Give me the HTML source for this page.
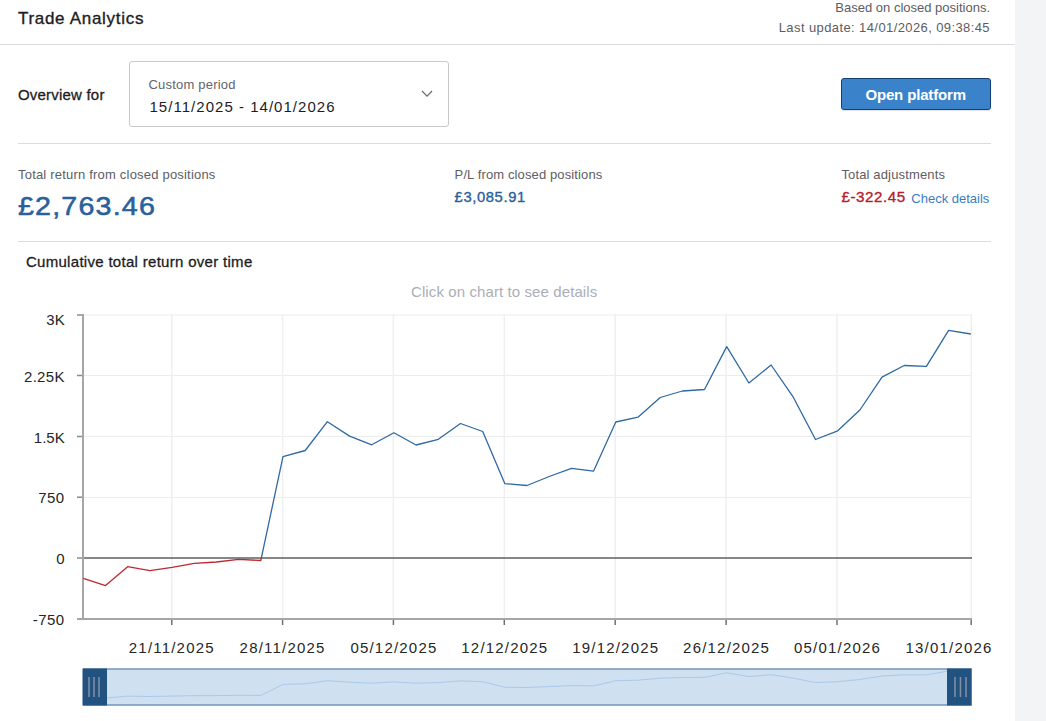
<!DOCTYPE html>
<html><head><meta charset="utf-8">
<style>
html,body{margin:0;padding:0;width:1046px;height:721px;overflow:hidden;background:#fff;}
body{position:relative;font-family:"Liberation Sans",sans-serif;color:#1d1d1f;}
.t{position:absolute;white-space:nowrap;line-height:1;}
.strip{position:absolute;left:1015px;top:0;width:31px;height:721px;background:#f3f4f6;}
.hline{position:absolute;height:1px;background:#dcdcdf;}
</style></head><body>
<div class="strip"></div>

<!-- header -->
<div class="t" style="left:18px;top:9.6px;font-size:17px;letter-spacing:0.7px;-webkit-text-stroke:0.35px #1d1d1f;color:#1d1d1f;">Trade Analytics</div>
<div class="t" style="right:56px;top:1.3px;font-size:13px;color:#5c5c63;">Based on closed positions.</div>
<div class="t" style="right:56px;top:21.3px;font-size:13px;letter-spacing:0.4px;color:#5c5c63;">Last update: 14/01/2026, 09:38:45</div>
<div class="hline" style="left:0;top:44px;width:1015px;"></div>

<!-- overview row -->
<div class="t" style="left:18px;top:87.3px;font-size:15px;letter-spacing:0.2px;-webkit-text-stroke:0.3px #1d1d1f;color:#1d1d1f;">Overview for</div>
<div style="position:absolute;left:129px;top:61px;width:318px;height:64px;border:1px solid #c9c9cc;border-radius:3px;"></div>
<div class="t" style="left:148.5px;top:78.4px;font-size:13px;letter-spacing:0.2px;color:#63636b;">Custom period</div>
<div class="t" style="left:149.5px;top:99px;font-size:15px;letter-spacing:1.03px;color:#1d1d1f;">15/11/2025 - 14/01/2026</div>
<svg style="position:absolute;left:0;top:0" width="1046" height="130">
  <polyline points="422,91 427,96.2 432,91" fill="none" stroke="#66666e" stroke-width="1.15"/>
</svg>
<div style="position:absolute;left:841px;top:78px;width:148px;height:30px;background:#3a83cb;border:1px solid #143f70;border-radius:3px;box-shadow:0 1px 1px rgba(0,0,0,0.12);"></div>
<div class="t" style="left:865.4px;top:87.3px;font-size:15px;font-weight:bold;letter-spacing:-0.15px;color:#fff;">Open platform</div>

<div class="hline" style="left:18px;top:143px;width:973px;"></div>

<!-- stats -->
<div class="t" style="left:18px;top:168.4px;font-size:13px;letter-spacing:0.2px;color:#5d5d63;">Total return from closed positions</div>
<div class="t" style="left:18.4px;top:193.4px;font-size:26.5px;letter-spacing:1.1px;transform:scaleX(1.08);transform-origin:0 0;-webkit-text-stroke:0.55px #29609a;color:#29609a;">£2,763.46</div>
<div class="t" style="left:454.6px;top:168.4px;font-size:13px;letter-spacing:0.12px;color:#5d5d63;">P/L from closed positions</div>
<div class="t" style="left:454.6px;top:189.9px;font-size:14.8px;letter-spacing:0.6px;-webkit-text-stroke:0.35px #29609a;color:#29609a;">£3,085.91</div>
<div class="t" style="left:841.4px;top:168.2px;font-size:13px;letter-spacing:0.15px;color:#5d5d63;">Total adjustments</div>
<div class="t" style="left:841.4px;top:189.2px;font-size:15.2px;letter-spacing:0.55px;-webkit-text-stroke:0.35px #b3202a;color:#b3202a;">£-322.45</div>
<div class="t" style="left:911.3px;top:191.6px;font-size:13px;color:#3a7cc4;">Check details</div>

<div class="hline" style="left:18px;top:241px;width:973px;"></div>

<div class="t" style="left:25.9px;top:254.4px;font-size:15px;letter-spacing:0.3px;-webkit-text-stroke:0.3px #1d1d1f;color:#1d1d1f;">Cumulative total return over time</div>
<div class="t" style="left:411px;top:283.8px;font-size:15px;letter-spacing:0.1px;color:#abaeb7;">Click on chart to see details</div>

<!-- chart -->
<svg style="position:absolute;left:0;top:0" width="1046" height="721">
  <defs>
    <clipPath id="above"><rect x="0" y="0" width="1046" height="558"/></clipPath>
    <clipPath id="below"><rect x="0" y="558" width="1046" height="200"/></clipPath>
  </defs>
  <g stroke="#ececef" stroke-width="1" fill="none">
    <line x1="83" y1="315" x2="971.5" y2="315"/>
    <line x1="83" y1="375.5" x2="971.5" y2="375.5"/>
    <line x1="83" y1="436.5" x2="971.5" y2="436.5"/>
    <line x1="83" y1="497.5" x2="971.5" y2="497.5"/>
  </g>
  <g stroke="#efeff2" stroke-width="1.5" fill="none">
    <line x1="171.8" y1="314" x2="171.8" y2="619"/>
    <line x1="282.6" y1="314" x2="282.6" y2="619"/>
    <line x1="393.4" y1="314" x2="393.4" y2="619"/>
    <line x1="504.3" y1="314" x2="504.3" y2="619"/>
    <line x1="615.2" y1="314" x2="615.2" y2="619"/>
    <line x1="726.1" y1="314" x2="726.1" y2="619"/>
    <line x1="837" y1="314" x2="837" y2="619"/>
    <line x1="971.3" y1="314" x2="971.3" y2="619"/>
  </g>
  <!-- y ticks -->
  <g stroke="#8a8a8a" stroke-width="1.5">
    <line x1="77" y1="315" x2="83" y2="315"/>
    <line x1="77" y1="375.5" x2="83" y2="375.5"/>
    <line x1="77" y1="436.5" x2="83" y2="436.5"/>
    <line x1="77" y1="497.2" x2="83" y2="497.2"/>
    <line x1="77" y1="558" x2="83" y2="558"/>
  </g>
  <!-- x ticks -->
  <g stroke="#707070" stroke-width="1.5">
    <line x1="171.8" y1="619" x2="171.8" y2="625"/>
    <line x1="282.6" y1="619" x2="282.6" y2="625"/>
    <line x1="393.4" y1="619" x2="393.4" y2="625"/>
    <line x1="504.3" y1="619" x2="504.3" y2="625"/>
    <line x1="615.2" y1="619" x2="615.2" y2="625"/>
    <line x1="726.1" y1="619" x2="726.1" y2="625"/>
    <line x1="837" y1="619" x2="837" y2="625"/>
    <line x1="971.2" y1="619" x2="971.2" y2="625"/>
  </g>
  <line x1="83" y1="558" x2="972" y2="558" stroke="#5f5f5f" stroke-width="1.6"/>
  <line x1="83" y1="314" x2="83" y2="620" stroke="#a6a6a6" stroke-width="2"/>
  <line x1="77" y1="619" x2="972" y2="619" stroke="#a6a6a6" stroke-width="2"/>

  <g fill="none" stroke-width="1.3" stroke-linejoin="round">
    <polyline clip-path="url(#above)" stroke="#2f69a3" points="83.3,578.3 105.5,585.6 127.7,566.7 149.9,570.7 172.1,567.4 194.2,563.4 216.4,562.0 238.6,559.4 260.8,560.5 283.0,456.6 305.2,450.5 327.4,421.7 349.6,436.1 371.7,444.8 393.9,432.8 416.1,445.0 438.3,439.3 460.5,423.5 482.7,431.5 504.9,483.7 527.0,485.5 549.2,476.5 571.4,468.3 593.6,471.1 615.8,422.0 638.0,417.2 660.2,397.5 682.4,391.0 704.5,389.5 726.7,346.6 748.9,383.0 771.1,365.0 793.3,397.2 815.5,439.5 837.7,430.8 859.9,410.0 882.0,377.2 904.2,365.5 926.4,366.3 948.6,330.3 970.8,334.0"/>
    <polyline clip-path="url(#below)" stroke="#c0282f" points="83.3,578.3 105.5,585.6 127.7,566.7 149.9,570.7 172.1,567.4 194.2,563.4 216.4,562.0 238.6,559.4 260.8,560.5 283.0,456.6"/>
  </g>

  <!-- navigator -->
  <rect x="83" y="669" width="888.5" height="36" fill="#cfe0f0"/>
  <polyline id="nav" fill="none" stroke="#a9c9ec" stroke-width="1" points="83.3,697.3 105.5,698.1 127.7,696.1 149.9,696.5 172.1,696.1 194.2,695.7 216.4,695.6 238.6,695.3 260.8,695.4 283.0,684.4 305.2,683.8 327.4,680.7 349.6,682.2 371.7,683.2 393.9,681.9 416.1,683.2 438.3,682.6 460.5,680.9 482.7,681.7 504.9,687.3 527.0,687.5 549.2,686.5 571.4,685.6 593.6,685.9 615.8,680.7 638.0,680.2 660.2,678.2 682.4,677.5 704.5,677.3 726.7,672.8 748.9,676.6 771.1,674.7 793.3,678.1 815.5,682.6 837.7,681.7 859.9,679.5 882.0,676.0 904.2,674.8 926.4,674.8 948.6,671.0 970.8,671.4"/>
  <line x1="83" y1="669" x2="971.5" y2="669" stroke="#7396ba" stroke-width="1.5"/>
  <line x1="83" y1="705" x2="971.5" y2="705" stroke="#7396ba" stroke-width="1.5"/>
  <rect x="82.5" y="668.5" width="24.5" height="37" fill="#22527f"/>
  <rect x="947" y="668.5" width="24.7" height="37" fill="#22527f"/>
  <g stroke="#7f8ea3" stroke-width="1.6">
    <line x1="89" y1="677" x2="89" y2="697"/>
    <line x1="94" y1="677" x2="94" y2="697"/>
    <line x1="99" y1="677" x2="99" y2="697"/>
    <line x1="955" y1="677" x2="955" y2="697"/>
    <line x1="960.5" y1="677" x2="960.5" y2="697"/>
    <line x1="966" y1="677" x2="966" y2="697"/>
  </g>
</svg>

<!-- y labels -->
<div class="t" style="right:981.3px;top:312.3px;font-size:15px;color:#262626;">3K</div>
<div class="t" style="right:981.3px;top:369.1px;font-size:15px;letter-spacing:0.3px;color:#262626;">2.25K</div>
<div class="t" style="right:981.3px;top:429.9px;font-size:15px;color:#262626;">1.5K</div>
<div class="t" style="right:981.3px;top:490.2px;font-size:15px;letter-spacing:0.5px;color:#262626;">750</div>
<div class="t" style="right:981.3px;top:551.3px;font-size:15px;color:#262626;">0</div>
<div class="t" style="right:981.3px;top:612.3px;font-size:15px;letter-spacing:0.5px;color:#262626;">-750</div>

<!-- x labels -->
<div class="t" style="left:128.8px;top:640px;font-size:15px;letter-spacing:1.2px;color:#262626;">21/11/2025</div>
<div class="t" style="left:239.6px;top:640px;font-size:15px;letter-spacing:1.2px;color:#262626;">28/11/2025</div>
<div class="t" style="left:350.4px;top:640px;font-size:15px;letter-spacing:1.2px;color:#262626;">05/12/2025</div>
<div class="t" style="left:461.3px;top:640px;font-size:15px;letter-spacing:1.2px;color:#262626;">12/12/2025</div>
<div class="t" style="left:572.2px;top:640px;font-size:15px;letter-spacing:1.2px;color:#262626;">19/12/2025</div>
<div class="t" style="left:683.1px;top:640px;font-size:15px;letter-spacing:1.2px;color:#262626;">26/12/2025</div>
<div class="t" style="left:794px;top:640px;font-size:15px;letter-spacing:1.2px;color:#262626;">05/01/2026</div>
<div class="t" style="left:905.5px;top:640px;font-size:15px;letter-spacing:1.2px;color:#262626;">13/01/2026</div>
</body></html>
